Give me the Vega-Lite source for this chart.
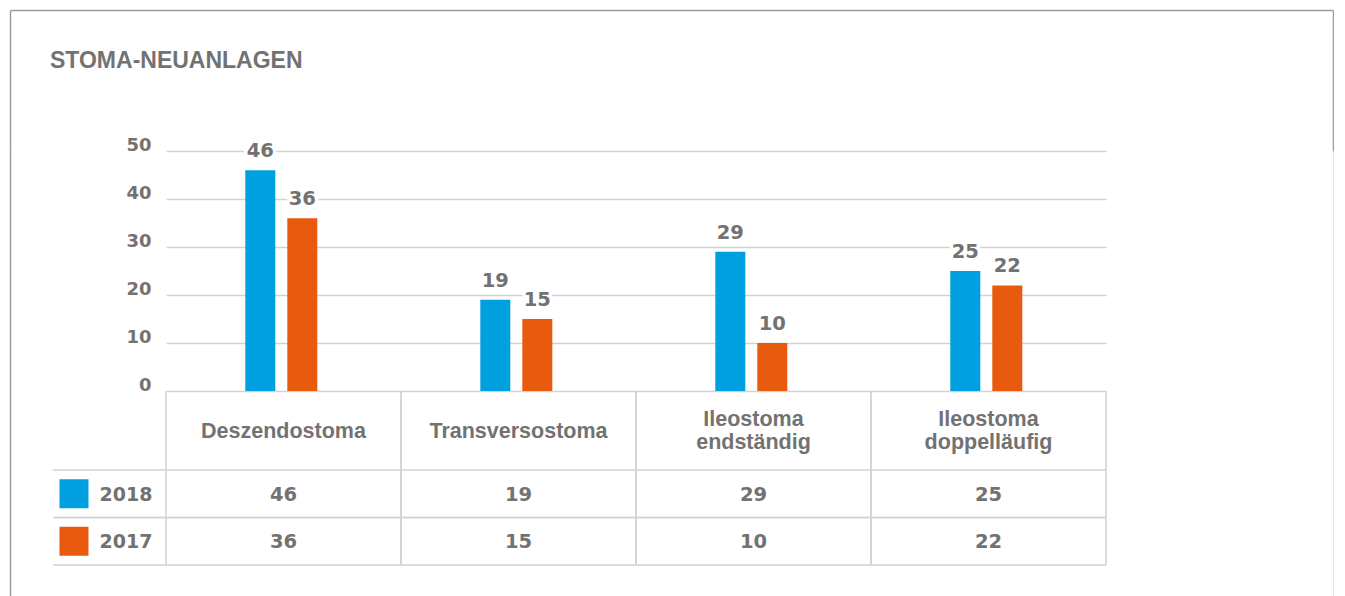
{
  "$schema": "https://vega.github.io/schema/vega-lite/v6.json",
  "padding": {"left": 10, "top": 10, "right": 0, "bottom": 0},
  "background": "white",
  "datasets": {
    "values": [
      {"cat": "Deszendostoma", "year": "2018", "value": 46},
      {"cat": "Deszendostoma", "year": "2017", "value": 36},
      {"cat": "Transversostoma", "year": "2018", "value": 19},
      {"cat": "Transversostoma", "year": "2017", "value": 15},
      {"cat": "Ileostoma endständig", "year": "2018", "value": 29},
      {"cat": "Ileostoma endständig", "year": "2017", "value": 10},
      {"cat": "Ileostoma doppelläufig", "year": "2018", "value": 25},
      {"cat": "Ileostoma doppelläufig", "year": "2017", "value": 22}
    ],
    "cats": [
      {"cat": "Deszendostoma"},
      {"cat": "Transversostoma"},
      {"cat": "Ileostoma endständig"},
      {"cat": "Ileostoma doppelläufig"}
    ],
    "years": [{"year": "2018"}, {"year": "2017"}],
    "blank": [{"k": 0}]
  },
  "spacing": 0,
  "bounds": "flush",
  "resolve": {"scale": {"x": "independent", "y": "independent"}},
  "vconcat": [
    {
      "width": 1323, "height": 141,
      "data": {"name": "blank"},
      "title": {"text": "STOMA-NEUANLAGEN", "anchor": "start", "orient": "top", "offset": -62.5, "dx": 40, "font": "Liberation Sans", "fontSize": 23, "fontWeight": "bold", "color": "#727272"},
      "resolve": {"scale": {"y": "independent"}, "axis": {"y": "independent"}},
      "layer": [
        {"mark": {"type": "point", "opacity": 0, "size": 0, "strokeWidth": 0},
         "encoding": {
           "x": {"datum": 0, "type": "quantitative", "axis": {"orient": "top", "domain": true, "domainColor": "#9c9c9c", "domainWidth": 1.5, "labels": false, "ticks": false, "grid": false, "title": null}},
           "y": {"datum": 0, "type": "quantitative", "axis": {"orient": "left", "domain": true, "domainColor": "#9c9c9c", "domainWidth": 1.5, "labels": false, "ticks": false, "grid": false, "title": null}}
         }},
        {"mark": {"type": "point", "opacity": 0, "size": 0, "strokeWidth": 0},
         "encoding": {
           "y": {"datum": 0, "type": "quantitative", "axis": {"orient": "right", "domain": true, "domainColor": "#9c9c9c", "domainWidth": 1.5, "labels": false, "ticks": false, "grid": false, "title": null}}
         }}
      ]
    },
    {
      "spacing": 0,
      "bounds": "full",
      "resolve": {"scale": {"x": "independent", "y": "independent"}},
      "hconcat": [
        {"width": 42, "height": 460, "data": {"name": "blank"},
         "mark": {"type": "point", "opacity": 0, "size": 0, "strokeWidth": 0},
         "encoding": {"y": {"datum": 0, "type": "quantitative", "axis": {"orient": "left", "domain": true, "domainColor": "#9c9c9c", "domainWidth": 1.5, "labels": false, "ticks": false, "grid": false, "title": null}}}},
        {
          "columns": 2,
          "spacing": 0,
          "bounds": "flush",
          "align": "each",
          "resolve": {"scale": {"x": "independent", "y": "independent"}},
          "concat": [
            {"width": 113, "height": 240, "data": {"name": "blank"}, "mark": {"type": "point", "opacity": 0, "size": 0, "strokeWidth": 0}, "encoding": {}},
            {
              "width": 940, "height": 240,
              "data": {"name": "values"},
              "encoding": {
                "x": {"field": "cat", "type": "nominal", "sort": null,
                      "scale": {"domain": ["Deszendostoma", "Transversostoma", "Ileostoma endständig", "Ileostoma doppelläufig"], "paddingInner": 0.6936, "paddingOuter": 0.3468, "align": 0.4865},
                      "axis": null},
                "xOffset": {"field": "year", "type": "nominal",
                            "scale": {"domain": ["2018", "2017"], "paddingInner": 0.2857, "paddingOuter": 0}},
                "y": {"field": "value", "type": "quantitative",
                      "scale": {"domain": [0, 50], "nice": false},
                      "axis": {"title": null, "values": [0, 10, 20, 30, 40, 50], "labelOverlap": false, "domain": false, "ticks": false,
                               "labelPadding": 15, "labelFont": "DejaVu Sans", "labelFontSize": 18, "labelFontWeight": "bold",
                               "labelColor": "#727272", "labelBaseline": "alphabetic", "labelOffset": -1,
                               "grid": true, "gridColor": "#d2d2d2", "gridWidth": 1.5}}
              },
              "layer": [
                {
                  "mark": {"type": "bar"},
                  "encoding": {
                    "color": {"field": "year", "type": "nominal", "legend": null,
                              "scale": {"domain": ["2018", "2017"], "range": ["#009fe0", "#e85a0e"]}}
                  }
                },
                {
                  "mark": {"type": "text", "baseline": "alphabetic", "dy": -13, "font": "DejaVu Sans", "fontSize": 19.5, "fontWeight": "bold",
                           "fill": "white", "stroke": "white", "strokeWidth": 7, "strokeJoin": "round"},
                  "encoding": {"text": {"field": "value", "type": "quantitative"}}
                },
                {
                  "mark": {"type": "text", "baseline": "alphabetic", "dy": -13, "font": "DejaVu Sans", "fontSize": 19.5, "fontWeight": "bold", "color": "#727272"},
                  "encoding": {"text": {"field": "value", "type": "quantitative"}}
                }
              ]
            },
            {"width": 113, "height": 79, "data": {"name": "blank"}, "mark": {"type": "point", "opacity": 0, "size": 0, "strokeWidth": 0}, "encoding": {}},
            {
              "width": 940, "height": 79,
              "data": {"name": "cats"},
              "encoding": {
                "x": {"field": "cat", "type": "nominal", "sort": null,
                      "scale": {"domain": ["Deszendostoma", "Transversostoma", "Ileostoma endständig", "Ileostoma doppelläufig"], "paddingInner": 0, "paddingOuter": 0},
                      "axis": null}
              },
              "layer": [
                {"mark": {"type": "rule", "color": "#d2d2d2", "strokeWidth": 1.5},
                 "encoding": {"x": {"field": "cat", "type": "nominal", "bandPosition": 0, "sort": null,
                      "scale": {"domain": ["Deszendostoma", "Transversostoma", "Ileostoma endständig", "Ileostoma doppelläufig"], "paddingInner": 0, "paddingOuter": 0}, "axis": null}}},
                {"mark": {"type": "rule", "color": "#d2d2d2", "strokeWidth": 1.5},
                 "encoding": {"x": {"field": "cat", "type": "nominal", "bandPosition": 1, "sort": null,
                      "scale": {"domain": ["Deszendostoma", "Transversostoma", "Ileostoma endständig", "Ileostoma doppelläufig"], "paddingInner": 0, "paddingOuter": 0}, "axis": null}}},
                {"transform": [{"filter": "indexof(datum.cat, ' ') < 0"}],
                 "mark": {"type": "text", "baseline": "middle", "dy": 1, "font": "Liberation Sans", "fontSize": 21.5, "fontWeight": "bold", "color": "#727272"},
                 "encoding": {"text": {"field": "cat", "type": "nominal"}}},
                {"transform": [{"filter": "indexof(datum.cat, ' ') >= 0"}],
                 "mark": {"type": "text", "lineBreak": " ", "lineHeight": 23, "baseline": "middle", "dy": -10.5, "font": "Liberation Sans", "fontSize": 21.5, "fontWeight": "bold", "color": "#727272"},
                 "encoding": {"text": {"field": "cat", "type": "nominal"}}}
              ]
            },
            {
              "width": 113, "height": 95,
              "data": {"name": "years"},
              "encoding": {
                "y": {"field": "year", "type": "nominal", "sort": null,
                      "scale": {"domain": ["2018", "2017"], "paddingInner": 0, "paddingOuter": 0}, "axis": null}
              },
              "layer": [
                {"mark": {"type": "rule", "color": "#d2d2d2", "strokeWidth": 1.5},
                 "encoding": {"y": {"field": "year", "type": "nominal", "bandPosition": 0, "sort": null,
                      "scale": {"domain": ["2018", "2017"], "paddingInner": 0, "paddingOuter": 0}, "axis": null}}},
                {"mark": {"type": "rule", "color": "#d2d2d2", "strokeWidth": 1.5},
                 "encoding": {"y": {"field": "year", "type": "nominal", "bandPosition": 1, "sort": null,
                      "scale": {"domain": ["2018", "2017"], "paddingInner": 0, "paddingOuter": 0}, "axis": null}}},
                {"mark": {"type": "square", "size": 841, "opacity": 1, "filled": true},
                 "encoding": {
                   "x": {"datum": "swatch", "type": "nominal", "scale": {"type": "point", "domain": ["swatch", "label"], "padding": 0.587, "align": 0.344}, "axis": null},
                   "color": {"field": "year", "type": "nominal", "legend": null,
                             "scale": {"domain": ["2018", "2017"], "range": ["#009fe0", "#e85a0e"]}}
                 }},
                {"mark": {"type": "text", "align": "center", "baseline": "middle", "dy": 1, "font": "DejaVu Sans", "fontSize": 19, "fontWeight": "bold", "color": "#727272"},
                 "encoding": {
                   "x": {"datum": "label", "type": "nominal", "scale": {"type": "point", "domain": ["swatch", "label"], "padding": 0.587, "align": 0.344}, "axis": null},
                   "text": {"field": "year", "type": "nominal"}
                 }}
              ]
            },
            {
              "width": 940, "height": 95,
              "data": {"name": "values"},
              "encoding": {
                "x": {"field": "cat", "type": "nominal", "sort": null,
                      "scale": {"domain": ["Deszendostoma", "Transversostoma", "Ileostoma endständig", "Ileostoma doppelläufig"], "paddingInner": 0, "paddingOuter": 0},
                      "axis": null},
                "y": {"field": "year", "type": "nominal", "sort": null,
                      "scale": {"domain": ["2018", "2017"], "paddingInner": 0, "paddingOuter": 0}, "axis": null}
              },
              "layer": [
                {"data": {"name": "cats"}, "mark": {"type": "rule", "color": "#d2d2d2", "strokeWidth": 1.5},
                 "encoding": {"y": null, "x": {"field": "cat", "type": "nominal", "bandPosition": 0, "sort": null,
                      "scale": {"domain": ["Deszendostoma", "Transversostoma", "Ileostoma endständig", "Ileostoma doppelläufig"], "paddingInner": 0, "paddingOuter": 0}, "axis": null}}},
                {"data": {"name": "cats"}, "mark": {"type": "rule", "color": "#d2d2d2", "strokeWidth": 1.5},
                 "encoding": {"y": null, "x": {"field": "cat", "type": "nominal", "bandPosition": 1, "sort": null,
                      "scale": {"domain": ["Deszendostoma", "Transversostoma", "Ileostoma endständig", "Ileostoma doppelläufig"], "paddingInner": 0, "paddingOuter": 0}, "axis": null}}},
                {"data": {"name": "years"}, "mark": {"type": "rule", "color": "#d2d2d2", "strokeWidth": 1.5},
                 "encoding": {"x": null, "y": {"field": "year", "type": "nominal", "bandPosition": 0, "sort": null,
                      "scale": {"domain": ["2018", "2017"], "paddingInner": 0, "paddingOuter": 0}, "axis": null}}},
                {"data": {"name": "years"}, "mark": {"type": "rule", "color": "#d2d2d2", "strokeWidth": 1.5},
                 "encoding": {"x": null, "y": {"field": "year", "type": "nominal", "bandPosition": 1, "sort": null,
                      "scale": {"domain": ["2018", "2017"], "paddingInner": 0, "paddingOuter": 0}, "axis": null}}},
                {"mark": {"type": "text", "baseline": "middle", "dy": 1, "font": "DejaVu Sans", "fontSize": 19.5, "fontWeight": "bold", "color": "#727272"},
                 "encoding": {"text": {"field": "value", "type": "quantitative"}}}
              ]
            }
          ]
        },
        {"width": 227, "height": 460, "data": {"name": "blank"},
         "mark": {"type": "point", "opacity": 0, "size": 0, "strokeWidth": 0},
         "encoding": {"y": {"datum": 0, "type": "quantitative", "axis": {"orient": "right", "domain": true, "domainColor": "#9c9c9c", "domainWidth": 1.5, "labels": false, "ticks": false, "grid": false, "title": null}}}}
      ]
    }
  ],
  "config": {
    "view": {"stroke": null},
    "font": "Liberation Sans"
  }
}
